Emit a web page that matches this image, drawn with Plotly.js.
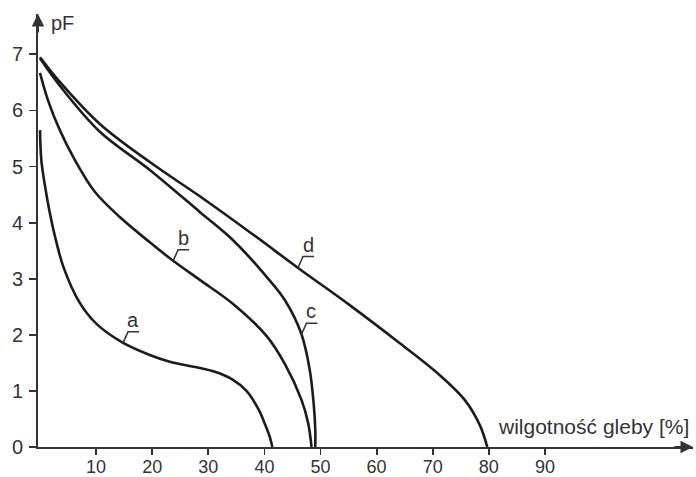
<!DOCTYPE html>
<html>
<head>
<meta charset="utf-8">
<script src="https://cdn.plot.ly/plotly-3.0.1.min.js"></script>
<style>html,body{margin:0;padding:0;background:#fff;}#chart{width:696px;height:477px;}</style>
</head>
<body>
<div id="chart"></div>
<script>
// Soil moisture [%] vs pF for four soils (a, b, c, d)
const curveNames = ['a', 'b', 'c', 'd'];

const aX = [0, 0.23, 0.86, 1.75, 2.82, 4.24, 7.09, 10.12, 14.58, 19.57, 23.13, 27.95, 31.16, 34.19, 36.81, 39.0, 40.25, 40.96, 41.41];
const aY = [5.65, 5.12, 4.67, 4.17, 3.69, 3.19, 2.57, 2.19, 1.87, 1.64, 1.52, 1.42, 1.34, 1.21, 1.00, 0.66, 0.37, 0.18, 0];

const bX = [0, 1.39, 3.53, 6.2, 9.77, 14.22, 19.57, 23.73, 28.48, 34.42, 40.37, 43.64, 46.61, 47.79, 48.4];
const bY = [6.67, 6.19, 5.65, 5.12, 4.55, 4.10, 3.65, 3.32, 2.98, 2.55, 1.98, 1.48, 0.84, 0.43, 0];

const cX = [0, 3.53, 10.66, 19.57, 28.48, 34.37, 40.43, 43.64, 46.61, 48.09, 48.8, 49.07, 49.07];
const cY = [6.93, 6.44, 5.62, 4.94, 4.19, 3.69, 3.03, 2.62, 2.01, 1.37, 0.75, 0.30, 0];

const dX = [0, 3.53, 10.66, 19.57, 28.48, 37.4, 46.31, 55.2, 64.14, 71.27, 75.7, 78.4, 79.73];
const dY = [6.95, 6.51, 5.76, 5.08, 4.47, 3.83, 3.17, 2.53, 1.85, 1.28, 0.84, 0.39, 0];

const xTickVals = [10, 20, 30, 40, 50, 60, 70, 80, 90];
const xTickText = ['10', '20', '30', '40', '50', '60', '70', '80', '90'];
const yTickVals = [0, 1, 2, 3, 4, 5, 6, 7];
const yTickText = ['0', '1', '2', '3', '4', '5', '6', '7'];

const xTitle = 'wilgotność gleby [%]';
const yTitle = 'pF';

const curves = [[aX, aY], [bX, bY], [cX, cY], [dX, dY]];
// points on each curve where the letter's leader line touches it
const labelAt = [[14.81, 1.86], [23.73, 3.32], [46.61, 2.01], [46.0, 3.2]];

const FONT = 'Liberation Sans, Arial, Helvetica, sans-serif';
const INK = '#333333';
const LINE = '#1c1c1c';

const traces = curves.map((c, i) => ({
  x: c[0], y: c[1], type: 'scatter', mode: 'lines', name: curveNames[i],
  line: {color: LINE, width: 2.6, shape: 'spline', smoothing: 1},
  hoverinfo: 'skip', showlegend: false, cliponaxis: false
}));

const annotations = [];
const shapes = [];
labelAt.forEach((p, i) => {
  annotations.push({
    x: p[0], y: p[1], xref: 'x', yref: 'y', text: curveNames[i], showarrow: false,
    xshift: 10, yshift: 23, font: {family: FONT, size: 20, color: INK}
  });
  shapes.push({
    type: 'path', xref: 'x', yref: 'y', xsizemode: 'pixel', ysizemode: 'pixel',
    xanchor: p[0], yanchor: p[1], path: 'M0,0 L5,11 L16,11',
    line: {color: INK, width: 1.6}
  });
});

// axis arrowheads
annotations.push({
  x: 0, y: 1, xref: 'paper', yref: 'paper', ax: 0, ay: 20, axref: 'pixel', ayref: 'pixel',
  showarrow: true, arrowhead: 2, arrowsize: 1.25, arrowwidth: 2, arrowcolor: INK, text: '', standoff: 0
});
annotations.push({
  x: 1, y: 0, xref: 'paper', yref: 'paper', ax: -20, ay: 0, axref: 'pixel', ayref: 'pixel',
  showarrow: true, arrowhead: 2, arrowsize: 1.25, arrowwidth: 2, arrowcolor: INK, text: '', standoff: 0
});
// axis titles
annotations.push({
  x: 0.0168, y: 0.979, xref: 'paper', yref: 'paper', xanchor: 'left', yanchor: 'middle',
  text: yTitle, showarrow: false, font: {family: FONT, size: 20, color: INK}
});
annotations.push({
  x: 0.997, y: 0.36, xref: 'paper', yref: 'y', xanchor: 'right', yanchor: 'middle',
  text: xTitle, showarrow: false, font: {family: FONT, size: 21, color: INK}
});

const layout = {
  width: 696, height: 477,
  margin: {l: 38, r: 3, t: 14, b: 30, pad: 0},
  paper_bgcolor: '#fff', plot_bgcolor: '#fff',
  showlegend: false,
  xaxis: {
    range: [-0.36, 116.4], showgrid: false, zeroline: false,
    showline: true, linecolor: INK, linewidth: 2,
    ticks: 'outside', ticklen: 6, tickwidth: 1.8, tickcolor: INK,
    tickvals: xTickVals, ticktext: xTickText, ticklabelstandoff: -4,
    tickfont: {family: FONT, size: 18, color: INK}, fixedrange: true
  },
  yaxis: {
    range: [0, 7.72], showgrid: false, zeroline: false,
    showline: true, linecolor: INK, linewidth: 2,
    ticks: 'outside', ticklen: 7, tickwidth: 1.8, tickcolor: INK,
    tickvals: yTickVals, ticktext: yTickText, ticklabelstandoff: 2,
    tickfont: {family: FONT, size: 20, color: INK}, fixedrange: true
  },
  annotations: annotations,
  shapes: shapes
};

Plotly.newPlot('chart', traces, layout, {displayModeBar: false, staticPlot: true});
</script>
</body>
</html>
